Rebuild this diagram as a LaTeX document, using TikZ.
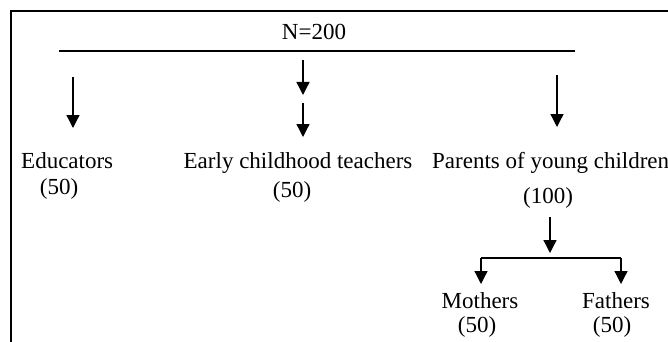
\documentclass[tikz,border=0pt]{standalone}
\usepackage{fontspec}
\setmainfont{Liberation Serif}
\usetikzlibrary{arrows.meta}
\begin{document}
\begin{tikzpicture}[x=1pt,y=-1pt,
  lbl/.style={anchor=base,inner sep=0pt,font=\fontsize{23}{26}\selectfont},
  arr/.style={line width=1.3pt,-{Triangle[width=13pt,length=13pt]}},
  link/.style={line width=1.3pt},
  rule/.style={line width=2pt},
  frame/.style={line width=1.3pt}]
\useasboundingbox (0,0) rectangle (668,342);
% frame
\draw[frame] (11,342) -- (11,11) -- (668,11);
% title
\node[lbl] (n) at (314,40) {N=200};
\coordinate (rl) at (59,51);
\coordinate (rr) at (575,51);
\draw[rule] (rl) -- (rr);
% first level
\node[lbl,anchor=base west] (edu) at (21,168) {Educators};
\node[lbl] (edun) at (59,194) {(50)};
\node[lbl] (ect) at (298,168) {Early childhood teachers};
\node[lbl] (ectn) at (292,197) {(50)};
\node[lbl,anchor=base west] (par) at (432,168) {Parents of young children};
\node[lbl] (parn) at (548,203) {(100)};
% arrows from the rule
\coordinate (a1s) at (73,77);  \coordinate (a1e) at (73,128);
\coordinate (a2s) at (303,60); \coordinate (a2e) at (303,95);
\coordinate (a3s) at (303,103);\coordinate (a3e) at (303,137);
\coordinate (a4s) at (557,75); \coordinate (a4e) at (557,127);
\draw[arr] (a1s) -- (a1e);
\draw[arr] (a2s) -- (a2e);
\draw[arr] (a3s) -- (a3e);
\draw[arr] (a4s) -- (a4e);
% parents split
\coordinate (p1s) at (550,217); \coordinate (p1e) at (550,253);
\draw[arr] (p1s) -- (p1e);
\coordinate (bl) at (481,258); \coordinate (br) at (621,258);
\coordinate (ml) at (481,284); \coordinate (fr) at (621,284);
\draw[link] (bl) -- (br);
\draw[arr] (bl) -- (ml);
\draw[arr] (br) -- (fr);
\node[lbl] (mo) at (480,308) {Mothers};
\node[lbl] (mon) at (477,332) {(50)};
\node[lbl] (fa) at (616,308) {Fathers};
\node[lbl] (fan) at (612,332) {(50)};
\end{tikzpicture}
\end{document}
